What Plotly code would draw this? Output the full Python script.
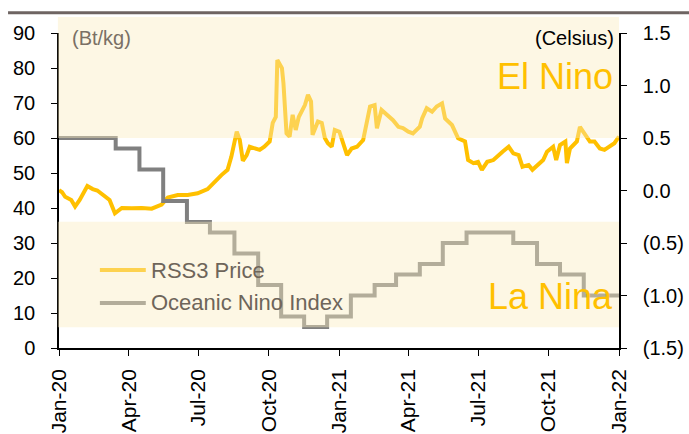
import plotly.graph_objects as go

# ---- data ----
price_dates = [
    "2020-01-01", "2020-01-05", "2020-01-09", "2020-01-17", "2020-01-22", "2020-01-28",
    "2020-02-07", "2020-02-14", "2020-02-20", "2020-03-01", "2020-03-07", "2020-03-14",
    "2020-03-23", "2020-04-05", "2020-04-18", "2020-05-01", "2020-05-14", "2020-05-22",
    "2020-06-04", "2020-06-17", "2020-06-30", "2020-07-13", "2020-07-22", "2020-07-31",
    "2020-08-08", "2020-08-13", "2020-08-20", "2020-08-24", "2020-08-28", "2020-09-02",
    "2020-09-06", "2020-09-12", "2020-09-19", "2020-09-25", "2020-10-02", "2020-10-06",
    "2020-10-10", "2020-10-12", "2020-10-18", "2020-10-20", "2020-10-24", "2020-10-28",
    "2020-11-01", "2020-11-05", "2020-11-09", "2020-11-17", "2020-11-21", "2020-11-25",
    "2020-11-27", "2020-12-04", "2020-12-09", "2020-12-13", "2020-12-17", "2020-12-22",
    "2020-12-26", "2021-01-01", "2021-01-05", "2021-01-11", "2021-01-17", "2021-01-24",
    "2021-02-01", "2021-02-06", "2021-02-10", "2021-02-16", "2021-02-19", "2021-02-25",
    "2021-03-04", "2021-03-12", "2021-03-19", "2021-03-25", "2021-04-01", "2021-04-07",
    "2021-04-16", "2021-04-19", "2021-04-25", "2021-05-02", "2021-05-08", "2021-05-15",
    "2021-05-19", "2021-05-28", "2021-06-05", "2021-06-14", "2021-06-18", "2021-06-25",
    "2021-07-01", "2021-07-06", "2021-07-13", "2021-07-21", "2021-08-02", "2021-08-10",
    "2021-08-16", "2021-08-23", "2021-08-28", "2021-09-05", "2021-09-10", "2021-09-17",
    "2021-09-24", "2021-09-29", "2021-10-07", "2021-10-11", "2021-10-16", "2021-10-23",
    "2021-10-25", "2021-10-29", "2021-11-07", "2021-11-11", "2021-11-17", "2021-11-24",
    "2021-11-30", "2021-12-07", "2021-12-13", "2021-12-20", "2021-12-26", "2022-01-01",
]
price_values = [
    45.1, 44.5, 43.2, 42.3, 40.4, 42.3,
    46.3, 45.4, 45.0, 43.2, 42.3, 38.5,
    40.0, 39.9, 40.0, 39.8, 41.0, 43.0,
    43.7, 43.7, 44.2, 45.4, 47.5, 49.4,
    50.9, 54.7, 61.8, 59.4, 53.5, 55.1,
    57.5, 57.0, 56.6, 57.5, 59.0, 64.3,
    66.0, 82.3, 80.0, 75.6, 61.3, 60.4,
    66.6, 62.3, 66.0, 69.4, 72.3, 70.4,
    60.9, 64.7, 64.3, 60.0, 58.5, 57.5,
    62.3, 61.8, 59.4, 55.1, 57.0, 57.5,
    59.4, 64.3, 69.0, 69.4, 62.8, 68.0,
    66.6, 65.1, 63.2, 62.8, 61.8, 61.3,
    63.2, 65.6, 68.5, 67.5, 69.0, 69.9,
    65.6, 63.7, 59.9, 59.0, 53.7, 52.8,
    53.2, 50.9, 53.2, 53.7, 56.1, 57.5,
    55.6, 55.1, 51.8, 52.3, 50.9, 52.3,
    53.7, 56.1, 57.5, 53.7, 58.0, 59.0,
    52.8, 57.0, 59.0, 63.2, 61.3, 59.0,
    59.0, 57.0, 56.6, 57.5, 58.5, 60.4,
]

oni_dates = [
    "2020-01-01", "2020-03-15", "2020-04-15", "2020-05-16", "2020-06-16", "2020-07-16",
    "2020-08-17", "2020-09-17", "2020-10-17", "2020-11-16", "2020-12-16", "2021-01-16",
    "2021-02-16", "2021-03-16", "2021-04-16", "2021-05-16", "2021-06-16", "2021-08-16",
    "2021-09-16", "2021-10-16", "2021-11-16", "2022-01-01",
]
oni_values = [
    0.5, 0.4, 0.2, -0.1, -0.3, -0.4,
    -0.6, -0.9, -1.2, -1.3, -1.2, -1.0,
    -0.9, -0.8, -0.7, -0.5, -0.4, -0.5,
    -0.7, -0.8, -1.0, -1.0,
]

x_tick_dates = ["2020-01-01", "2020-04-01", "2020-07-01", "2020-10-01", "2021-01-01",
                "2021-04-01", "2021-07-01", "2021-10-01", "2022-01-01"]
left_ticks = [0, 10, 20, 30, 40, 50, 60, 70, 80, 90]
right_ticks = [-1.5, -1.0, -0.5, 0.0, 0.5, 1.0, 1.5]
right_tick_text = ["(1.5)", "(1.0)", "(0.5)", "0.0", "0.5", "1.0", "1.5"]

GOLD = "#FFC000"
GRAY = "#808080"
FONT = "Liberation Sans, Arial, sans-serif"
OVERLAY = "rgba(250,235,190,0.42)"

fig = go.Figure()
fig.add_trace(go.Scatter(x=oni_dates, y=oni_values, mode="lines", line_shape="hv",
                         line=dict(color=GRAY, width=4), yaxis="y2",
                         name="Oceanic Nino Index", showlegend=False))
fig.add_trace(go.Scatter(x=price_dates, y=price_values, mode="lines",
                         line=dict(color=GOLD, width=4),
                         name="RSS3 Price", showlegend=False))

shapes = [
    # legend samples (below the overlay bands)
    dict(type="line", xref="paper", yref="paper", x0=0.073, x1=0.155, y0=0.2476, y1=0.2476,
         line=dict(color=GOLD, width=4), layer="above"),
    dict(type="line", xref="paper", yref="paper", x0=0.073, x1=0.155, y0=0.1429, y1=0.1429,
         line=dict(color=GRAY, width=4), layer="above"),
    # El Nino band
    dict(type="rect", xref="paper", yref="paper", x0=-0.002, x1=1.0, y0=60 / 90, y1=1.051,
         fillcolor=OVERLAY, line=dict(width=0), layer="above"),
    # La Nina band
    dict(type="rect", xref="paper", yref="paper", x0=-0.002, x1=1.0, y0=5.9 / 90, y1=36.1 / 90,
         fillcolor=OVERLAY, line=dict(width=0), layer="above"),
    # top rule
    dict(type="line", xref="paper", yref="paper", x0=-0.091, x1=1.13, y0=1.064, y1=1.064,
         line=dict(color="#6E6462", width=3), layer="above"),
]

annotations = [
    dict(text="(Bt/kg)", xref="paper", yref="paper", x=0.019, y=0.984, xanchor="left",
         yanchor="middle", showarrow=False, font=dict(family=FONT, size=20, color="#7A7065")),
    dict(text="(Celsius)", xref="paper", yref="paper", x=0.994, y=0.984, xanchor="right",
         yanchor="middle", showarrow=False, font=dict(family=FONT, size=20, color="#000000")),
    dict(text="El Nino", xref="paper", yref="paper", x=0.992, y=0.862, xanchor="right",
         yanchor="middle", showarrow=False, font=dict(family=FONT, size=36, color=GOLD)),
    dict(text="La Nina", xref="paper", yref="paper", x=0.992, y=0.162, xanchor="right",
         yanchor="middle", showarrow=False, font=dict(family=FONT, size=36, color=GOLD)),
    dict(text="RSS3 Price", xref="paper", yref="paper", x=0.161, y=0.2476, xanchor="left",
         yanchor="middle", showarrow=False, font=dict(family=FONT, size=22, color="#6E655A")),
    dict(text="Oceanic Nino Index", xref="paper", yref="paper", x=0.161, y=0.1429, xanchor="left",
         yanchor="middle", showarrow=False, font=dict(family=FONT, size=22, color="#6E655A")),
]

axis_common = dict(ticks="outside", ticklen=6, tickcolor="#000000", showline=True,
                   linecolor="#000000", linewidth=1.5, showgrid=False, zeroline=False,
                   automargin=False)

fig.update_layout(
    width=689, height=434,
    margin=dict(l=59, r=70, t=33, b=86, pad=0),
    paper_bgcolor="white", plot_bgcolor="white",
    font=dict(family=FONT, size=20, color="#000000"),
    showlegend=False,
    xaxis=dict(type="date", range=["2020-01-01", "2022-01-01"], tickvals=x_tick_dates,
               tickformat="%b-%y", tickangle=-90, ticklabelstandoff=5,
               tickfont=dict(family=FONT, size=21), **axis_common),
    yaxis=dict(range=[0, 90], tickvals=left_ticks, ticklabelstandoff=12,
               tickfont=dict(family=FONT, size=20), **axis_common),
    yaxis2=dict(range=[-1.5, 1.5], overlaying="y", side="right", anchor="x",
                tickvals=right_ticks, ticktext=right_tick_text, ticklabelstandoff=12,
                tickfont=dict(family=FONT, size=20), **axis_common),
    shapes=shapes,
    annotations=annotations,
)

fig.write_html("out.html", config={"displayModeBar": False},
               post_script="document.body.style.margin='0';document.body.style.overflow='hidden';")
